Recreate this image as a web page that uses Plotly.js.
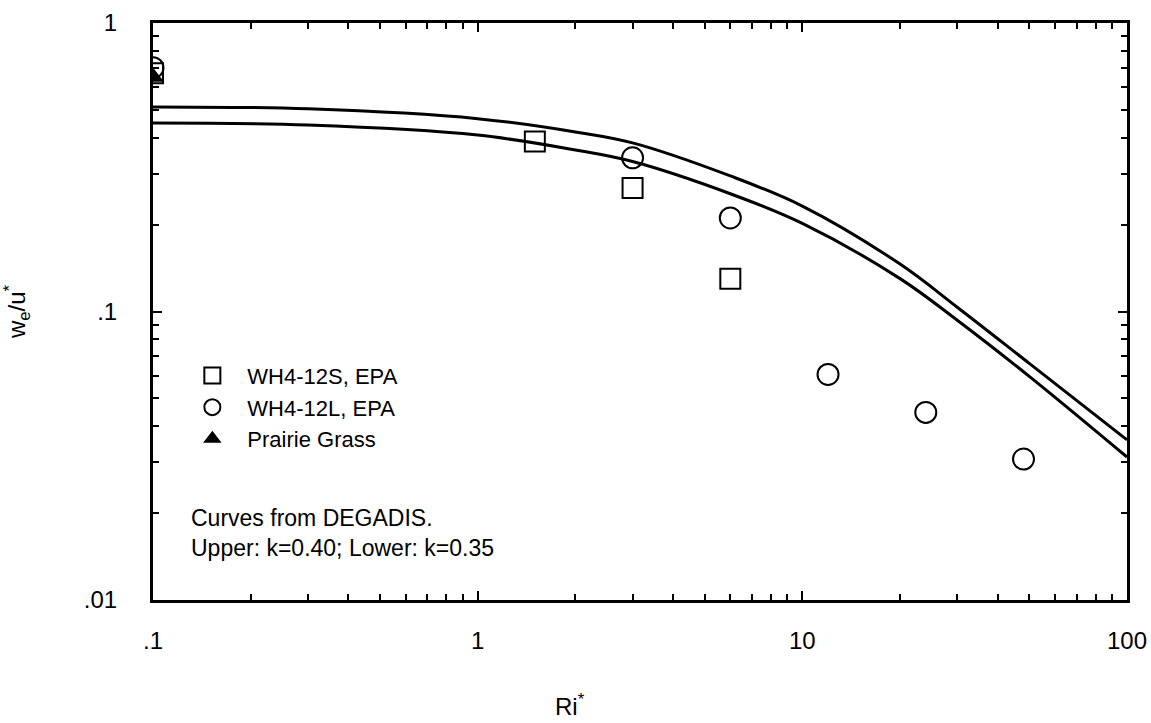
<!DOCTYPE html>
<html>
<head>
<meta charset="utf-8">
<script src="https://cdn.plot.ly/plotly-3.0.1.min.js"></script>
<style>html,body{margin:0;padding:0;background:#fff;}#chart{width:1151px;height:723px;}</style>
</head>
<body>
<div id="chart"></div>
<script>
// Data
const squareX = [0.1, 1.5, 3, 6];
const squareY = [0.67, 0.388, 0.268, 0.130];
const circleX = [0.1, 3, 6, 12, 24, 48];
const circleY = [0.70, 0.341, 0.211, 0.0605, 0.0447, 0.0308];
const triangleX = [0.1];
const triangleY = [0.65];
const curveX = [0.1, 0.3, 1, 2, 3, 6, 10, 20, 30, 50, 100];
const upperY = [0.512, 0.504, 0.466, 0.419, 0.384, 0.295, 0.232, 0.146, 0.1035, 0.0661, 0.0359];
const lowerY = [0.450, 0.443, 0.409, 0.363, 0.331, 0.256, 0.202, 0.130, 0.0933, 0.0596, 0.0313];
const xTickVals = [0.1, 1, 10, 100];
const xTickText = ['.1', '1', '10', '100'];
const yTickVals = [0.01, 0.1, 1];
const yTickText = ['.01', '.1', '1'];
const noteLines = ['Curves from DEGADIS.', 'Upper: k=0.40; Lower: k=0.35'];

const font = 'Liberation Sans, Arial, sans-serif';
const traces = [
  {x: curveX, y: upperY, mode: 'lines', line: {color: 'black', width: 3, shape: 'spline', smoothing: 1}, showlegend: false, hoverinfo: 'skip'},
  {x: curveX, y: lowerY, mode: 'lines', line: {color: 'black', width: 3, shape: 'spline', smoothing: 1}, showlegend: false, hoverinfo: 'skip'},
  {x: squareX, y: squareY, mode: 'markers', name: 'WH4-12S, EPA',
   marker: {symbol: 'square-open', size: 20, color: 'black', line: {width: 2, color: 'black'}}},
  {x: circleX, y: circleY, mode: 'markers', name: 'WH4-12L, EPA',
   marker: {symbol: 'circle-open', size: 21, color: 'black', line: {width: 2, color: 'black'}}},
  {x: triangleX, y: triangleY, mode: 'markers', name: 'Prairie Grass',
   marker: {symbol: 'triangle-up', size: 19, color: 'black'}}
];

const axisCommon = {
  type: 'log', showline: true, linecolor: 'black', linewidth: 3, mirror: 'ticks',
  ticks: 'inside', ticklen: 9, tickwidth: 2, tickcolor: 'black', showgrid: false, zeroline: false,
  tickfont: {family: font, size: 24, color: 'black'},
  minor: {ticks: 'inside', ticklen: 6, tickwidth: 2, tickcolor: 'black', dtick: 'D1', showgrid: false}
};

const layout = {
  width: 1151, height: 723,
  margin: {l: 153, r: 24, t: 23, b: 123},
  paper_bgcolor: 'white', plot_bgcolor: 'white',
  font: {family: font, color: 'black'},
  xaxis: Object.assign({}, axisCommon, {
    range: [-1, 2], tickvals: xTickVals, ticktext: xTickText, ticklabelstandoff: 17
  }),
  yaxis: Object.assign({}, axisCommon, {
    range: [-2, 0], tickvals: yTickVals, ticktext: yTickText, ticklabelstandoff: 28,
    title: {text: 'w<sub>e</sub>/u<sup>*</sup>', font: {family: font, size: 24, color: 'black'}, standoff: 52}
  }),
  legend: {x: 0.025, y: 0.425, xanchor: 'left', yanchor: 'top', bgcolor: 'rgba(0,0,0,0)',
           font: {family: font, size: 22, color: 'black'}, tracegroupgap: 0, itemwidth: 60},
  annotations: [
    {xref: 'paper', yref: 'paper', x: 0.428, y: -0.182, xanchor: 'center', yanchor: 'middle',
     showarrow: false, text: 'Ri<sup>*</sup>', font: {family: font, size: 24, color: 'black'}},
    {xref: 'paper', yref: 'paper', x: 0.037, y: (600 - 533) / 577, xanchor: 'left', yanchor: 'middle',
     showarrow: false, align: 'left', text: noteLines.join('<br>'), font: {family: font, size: 23, color: 'black'}}
  ]
};

Plotly.newPlot('chart', traces, layout, {displayModeBar: false, staticPlot: true});
</script>
</body>
</html>
